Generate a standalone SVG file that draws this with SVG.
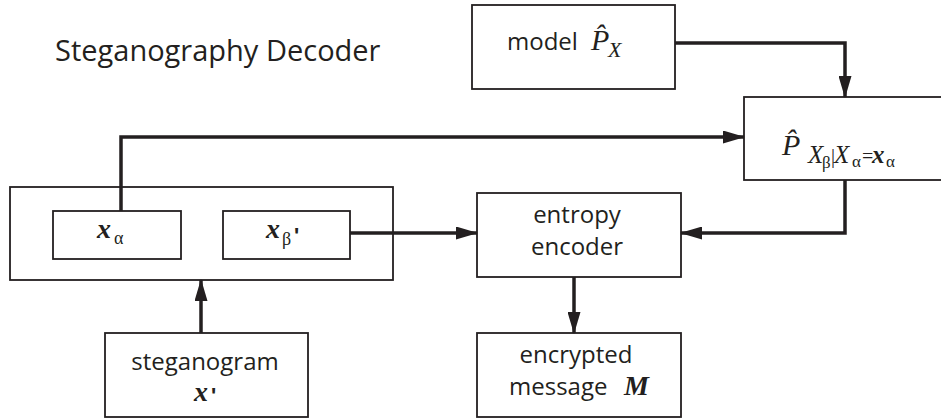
<svg xmlns="http://www.w3.org/2000/svg" width="941" height="419" viewBox="0 0 941 419">
<defs>
<style>
.box{fill:#fff;stroke:#231f20;stroke-width:1.8}
.conn{fill:none;stroke:#231f20;stroke-width:3.5}
.t{font-family:"Open Sans","Liberation Sans",sans-serif;font-size:24px;fill:#231f20}
.m{font-family:"Liberation Serif",serif;fill:#231f20}
.i{font-style:italic}
.up{font-style:normal;font-weight:normal}
.b{font-weight:bold;font-style:italic}
.pr{font-family:"Liberation Sans",sans-serif;font-weight:bold;font-style:normal}
</style>
<marker id="ah" markerUnits="userSpaceOnUse" markerWidth="22" markerHeight="13" refX="21" refY="6.5" orient="auto">
<path d="M0,0 L22,6.5 L0,13 z" fill="#231f20"/>
</marker>
</defs>
<rect width="941" height="419" fill="#fff"/>
<text class="t" x="55" y="61" style="font-size:29px">Steganography Decoder</text>

<g id="model">
<rect class="box" x="472" y="5" width="203" height="84"/>
<text class="t" x="507" y="50">model</text>
<text class="m i" x="591" y="50" font-size="30">P̂<tspan x="608" y="57" font-size="22">X</tspan></text>
</g>

<g id="cond">
<rect class="box" x="744" y="97" width="200" height="83"/>
<text class="m i" x="782" y="155" font-size="30">P̂<tspan x="808" y="163" font-size="25">X</tspan><tspan class="up" x="822" y="168" font-size="17">β</tspan><tspan class="up" x="831" y="163" font-size="20">|</tspan><tspan x="834" y="163" font-size="25">X</tspan><tspan class="up" x="852" y="167" font-size="17">α</tspan><tspan class="up" x="862" y="163" font-size="20">=</tspan><tspan class="b" x="872" y="163" font-size="25">x</tspan><tspan class="up" x="886" y="167" font-size="17">α</tspan></text>
</g>

<g id="split">
<rect class="box" x="10" y="187" width="383" height="93"/>
</g>
<g id="xalpha">
<rect class="box" x="53" y="211" width="128" height="48"/>
<text class="m b" x="97" y="238" font-size="28">x<tspan class="up" x="114" y="244" font-size="18">α</tspan></text>
</g>
<g id="xbeta">
<rect class="box" x="223" y="211" width="127" height="48"/>
<text class="m b" x="266" y="238" font-size="28">x<tspan class="up" x="282" y="245" font-size="18">β</tspan><tspan class="pr" x="294" y="243" font-size="22">'</tspan></text>
</g>

<g id="entropy">
<rect class="box" x="477" y="193" width="204" height="84"/>
<text class="t" x="577" y="223" text-anchor="middle">entropy</text>
<text class="t" x="577" y="255" text-anchor="middle">encoder</text>
</g>

<g id="encrypted">
<rect class="box" x="477" y="333" width="204" height="84"/>
<text class="t" x="576" y="363" text-anchor="middle">encrypted</text>
<text class="t" x="509" y="395">message</text>
<text class="m b" x="624" y="395" font-size="28">M</text>
</g>

<g id="stego">
<rect class="box" x="105" y="333" width="203" height="84"/>
<text class="t" x="205" y="370" text-anchor="middle">steganogram</text>
<text class="m b" x="194" y="401" font-size="28">x<tspan class="pr" x="211" y="403" font-size="22">'</tspan></text>
</g>

<g id="connectors">
<path class="conn" d="M675,43 H845 V97" marker-end="url(#ah)"/>
<path class="conn" d="M121,211 V137 H744" marker-end="url(#ah)"/>
<path class="conn" d="M350,233 H477" marker-end="url(#ah)"/>
<path class="conn" d="M845,180 V233 H681" marker-end="url(#ah)"/>
<path class="conn" d="M574,277 V333" marker-end="url(#ah)"/>
<path class="conn" d="M201,333 V280" marker-end="url(#ah)"/>
</g>
</svg>
